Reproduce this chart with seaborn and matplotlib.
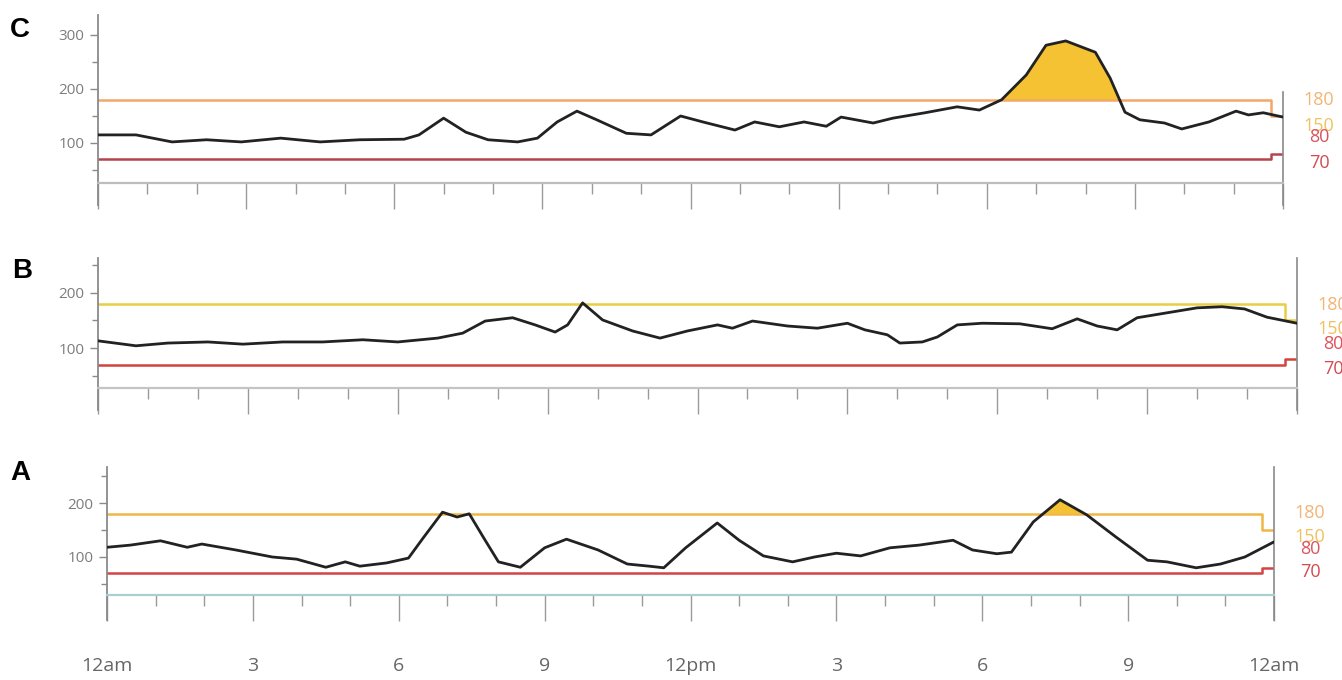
import numpy as np
import pandas as pd
import matplotlib
matplotlib.use("Agg")
import matplotlib.pyplot as plt
import seaborn as sns
from matplotlib.ticker import MultipleLocator, FixedLocator

# ---------------- data ----------------
HOURS_C = [0, 0.77, 1.5, 2.2, 2.9, 3.7, 4.5, 5.3, 6.2, 6.5, 7.0, 7.45, 7.9, 8.5, 8.9,
           9.3, 9.7, 10.1, 10.7, 11.2, 11.8, 12.25, 12.9, 13.3, 13.8, 14.3, 14.75,
           15.05, 15.7, 16.1, 16.75, 17.4, 17.85, 18.3, 18.8, 19.2, 19.6, 20.2, 20.5,
           20.8, 21.1, 21.6, 21.95, 22.5, 23.05, 23.3, 23.6, 24.0]
GLUCOSE_C = [115, 115, 102, 106, 102, 109, 102, 106, 107, 115, 146, 120, 106, 102, 109,
             139, 159, 143, 118, 115, 150, 139, 124, 139, 130, 139, 131,
             148, 137, 146, 156, 167, 161, 180, 226, 281, 289, 268, 220,
             157, 143, 137, 126, 139, 159, 152, 156, 148]

HOURS_B = [0, 0.76, 1.4, 2.2, 2.9, 3.7, 4.5, 5.3, 6.0, 6.8, 7.3, 7.75, 8.3, 8.75, 9.15,
           9.4, 9.7, 10.1, 10.7, 11.25, 11.8, 12.4, 12.7, 13.1, 13.8, 14.4, 15.0, 15.35,
           15.8, 16.05, 16.5, 16.8, 17.2, 17.7, 18.45, 19.1, 19.6, 20.0, 20.4, 20.8,
           21.4, 22.0, 22.5, 22.95, 23.4, 24.0]
GLUCOSE_B = [113, 104, 109, 111, 107, 111, 111, 115, 111, 118, 127, 149, 155, 142, 129,
             142, 182, 151, 131, 118, 131, 142, 136, 149, 140, 136, 145, 133,
             124, 109, 111, 120, 142, 145, 144, 135, 153, 140, 133, 155,
             164, 173, 175, 171, 156, 145]

HOURS_A = [0, 0.48, 1.1, 1.65, 1.95, 2.65, 3.4, 3.9, 4.5, 4.9, 5.2, 5.75, 6.2, 6.5, 6.9,
           7.2, 7.45, 7.75, 8.05, 8.5, 9.0, 9.45, 10.1, 10.7, 11.15, 11.45, 11.9, 12.55,
           13.0, 13.5, 14.1, 14.55, 15.0, 15.5, 16.1, 16.7, 17.4, 17.8, 18.3, 18.6,
           19.05, 19.6, 20.15, 20.75, 21.4, 21.8, 22.4, 22.9, 23.4, 24.0]
GLUCOSE_A = [118, 122, 130, 118, 124, 113, 100, 96, 81, 91, 83, 89, 98, 135, 183,
             174, 180, 135, 91, 81, 117, 133, 113, 87, 83, 80, 117, 163,
             131, 102, 91, 100, 107, 102, 117, 122, 131, 113, 106, 109,
             165, 206, 178, 137, 94, 91, 80, 87, 100, 128]

TARGET_T = [0, 23.75, 24]
HIGH = [180, 150, 150]
LOW = [70, 80, 80]

XTICKS = [0, 3, 6, 9, 12, 15, 18, 21, 24]
XTICK_LABELS = ["12am", "3", "6", "9", "12pm", "3", "6", "9", "12am"]
RIGHT_LABELS = ["180", "150", "80", "70"]

# ---------------- style / layout ----------------
W, H = 1342, 680
sns.set_theme(style="white")
plt.rcParams['font.family'] = ['Open Sans', 'DejaVu Sans']

fig = plt.figure(figsize=(W / 100, H / 100), dpi=100)
fig.patch.set_facecolor("white")


def rect(l, r, t, b):
    return [l / W, 1 - b / H, (r - l) / W, (b - t) / H]


panels = [
    dict(name="C", hours=HOURS_C, gluc=GLUCOSE_C, box=(98, 1283, 15, 205),
         ylim=(-14.8, 337.0), base_y=25.9, yticks=[100, 200, 300],
         high_c="#F2A766", low_c="#B8424C", base_c="#bdbdbd",
         rbounds=(-14.8, 195), letter=(10, 30),
         lab_y=[180, 131, 111, 63],
         lab_c=["#F3B474", "#EFC25E", "#D9545C", "#D24B50"], xlabels=False),
    dict(name="B", hours=HOURS_B, gluc=GLUCOSE_B, box=(98, 1297, 258, 410),
         ylim=(-12.7, 263.6), base_y=27.3, yticks=[100, 200],
         high_c="#E6CF45", low_c="#D2423F", base_c="#c4c4c4",
         rbounds=(-12.7, 263.6), letter=(12, 271),
         lab_y=[178, 135, 107, 62],
         lab_c=["#F3B474", "#EFC25E", "#E0505A", "#D24B50"], xlabels=False),
    dict(name="A", hours=HOURS_A, gluc=GLUCOSE_A, box=(107, 1274, 467, 620),
         ylim=(-16.7, 266.7), base_y=29.6, yticks=[100, 200],
         high_c="#EEB746", low_c="#D44444", base_c="#A9CFCF",
         rbounds=(-16.7, 266.7), letter=(10, 473),
         lab_y=[181, 137, 115, 72],
         lab_c=["#F3B474", "#EFC25E", "#D9545C", "#D24B50"], xlabels=True),
]

for p in panels:
    ax = fig.add_axes(rect(*p["box"]))
    ax.set_facecolor("white")
    df = pd.DataFrame({"t": p["hours"], "g": p["gluc"]})
    tgt = pd.DataFrame({"t": TARGET_T, "hi": HIGH, "lo": LOW})

    # fill above the high target
    t = np.asarray(p["hours"], float)
    g = np.asarray(p["gluc"], float)
    ax.fill_between(t, g, HIGH[0], where=g > HIGH[0], interpolate=True,
                    color="#F4C232", lw=0, zorder=1)

    sns.lineplot(data=tgt, x="t", y="hi", ax=ax, color=p["high_c"], lw=1.8,
                 drawstyle="steps-post", estimator=None, zorder=2)
    sns.lineplot(data=tgt, x="t", y="lo", ax=ax, color=p["low_c"], lw=1.8,
                 drawstyle="steps-post", estimator=None, zorder=2)
    sns.lineplot(data=df, x="t", y="g", ax=ax, color="#222222", lw=2.0,
                 estimator=None, sort=False, zorder=3)

    ax.set_xlim(0, 24)
    ax.set_ylim(*p["ylim"])
    ax.set_xlabel("")
    ax.set_ylabel("")
    ax.grid(False)

    # spines
    ax.spines["top"].set_visible(False)
    ax.spines["bottom"].set_position(("data", p["base_y"]))
    ax.spines["bottom"].set_color(p["base_c"])
    ax.spines["bottom"].set_linewidth(1.6)
    ax.spines["left"].set_color("#8a8a8a")
    ax.spines["left"].set_linewidth(1.3)
    ax.spines["right"].set_visible(True)
    ax.spines["right"].set_color("#8a8a8a")
    ax.spines["right"].set_linewidth(1.2)
    ax.spines["right"].set_bounds(*p["rbounds"])

    # y ticks
    ax.yaxis.set_major_locator(FixedLocator(p["yticks"]))
    ax.yaxis.set_minor_locator(FixedLocator([50, 150, 250]))
    ax.set_yticklabels([str(v) for v in p["yticks"]])
    ax.tick_params(axis="y", which="major", left=True, right=False, length=5.8,
                   width=1.0, color="#8a8a8a", labelsize=11,
                   labelcolor="#7d7d7d", pad=4)
    ax.tick_params(axis="y", which="minor", left=True, right=False, length=4.2,
                   width=1.0, color="#8a8a8a")

    # x ticks
    ax.xaxis.set_major_locator(FixedLocator(XTICKS))
    ax.xaxis.set_minor_locator(MultipleLocator(1))
    if p["xlabels"]:
        ax.set_xticklabels(XTICK_LABELS)
    else:
        ax.set_xticklabels([""] * len(XTICKS))
    ax.tick_params(axis="x", which="major", bottom=True, direction="out",
                   length=18.5, width=1.0, color="#9a9a9a", labelsize=14,
                   labelcolor="#666666", pad=26)
    ax.tick_params(axis="x", which="minor", bottom=True, direction="out",
                   length=8, width=1.0, color="#9a9a9a")

    # right-hand target labels
    for txt, yv, col in zip(RIGHT_LABELS, p["lab_y"], p["lab_c"]):
        ax.annotate(txt, xy=(1, yv), xycoords=("axes fraction", "data"),
                    xytext=(26, 0), textcoords="offset points",
                    ha="center", va="center", fontsize=13, color=col,
                    annotation_clip=False)

    lx, ly = p["letter"]
    fig.text(lx / W, 1 - ly / H, p["name"], fontsize=20, fontweight="bold",
             family=["Liberation Sans", "DejaVu Sans"], color="black",
             ha="left", va="center")

fig.savefig("out.png", dpi=100, facecolor="white")
